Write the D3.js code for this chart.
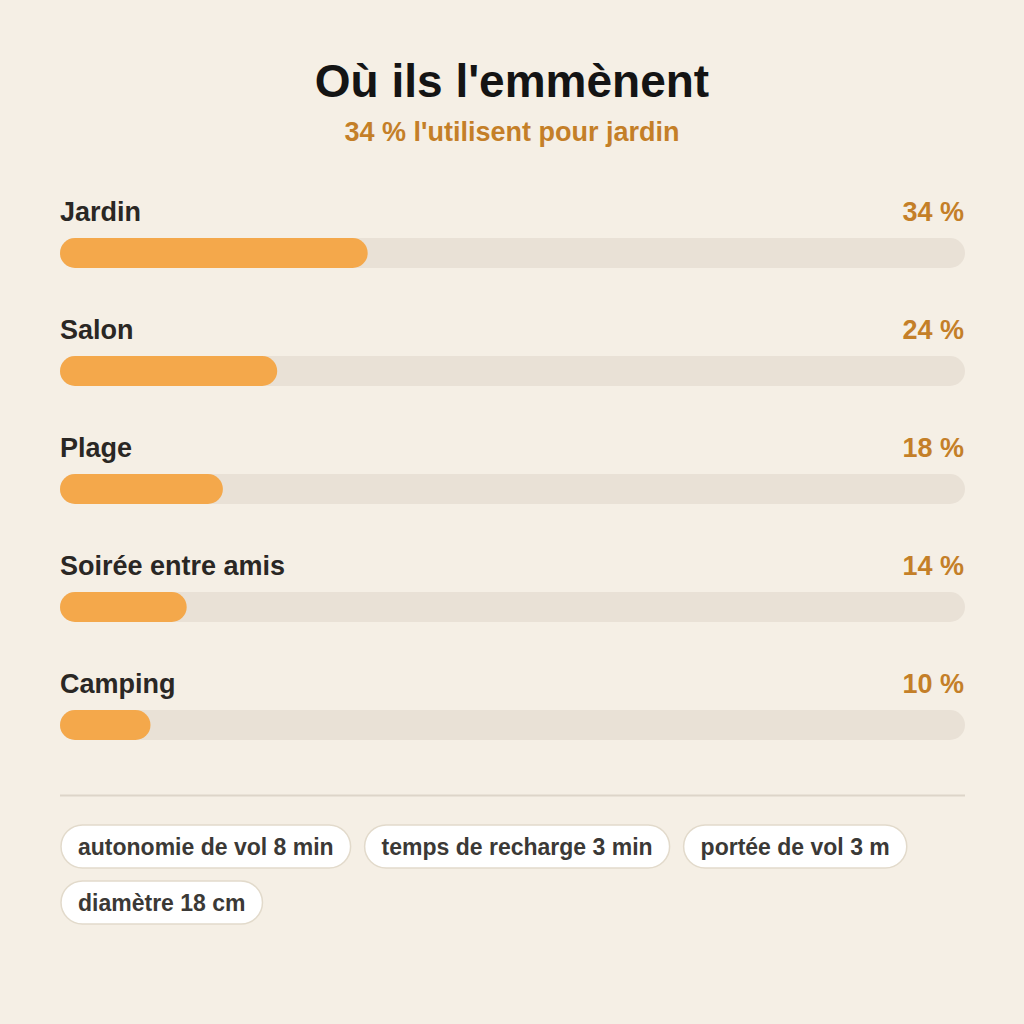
<!DOCTYPE html>
<html><head><meta charset="utf-8">
<script src="https://cdn.jsdelivr.net/npm/d3@7"></script>
<style>
html,body{margin:0;padding:0;background:#f5efe5;}
svg{display:block;font-family:"Liberation Sans",Arial,sans-serif;}
</style></head>
<body><svg id="c" width="1024" height="1024"></svg>
<script>
const title = "Où ils l'emmènent";
const subtitle = "34 % l'utilisent pour jardin";
const categories = ["Jardin","Salon","Plage","Soirée entre amis","Camping"];
const values = [34,24,18,14,10];
const chips = ["autonomie de vol 8 min","temps de recharge 3 min","portée de vol 3 m","diamètre 18 cm"];

const svg = d3.select("#c");
svg.append("rect").attr("width",1024).attr("height",1024).attr("fill","#f5efe5");
svg.append("text").attr("x",512).attr("y",97).attr("text-anchor","middle")
  .attr("font-size",46).attr("font-weight","bold").attr("fill","#141414").text(title);
svg.append("text").attr("x",512).attr("y",141).attr("text-anchor","middle")
  .attr("font-size",27).attr("font-weight","bold").attr("fill","#c47f28").text(subtitle);

const left=60, right=965, barH=30;
const x = d3.scaleLinear().domain([0,100]).range([left,right]);
const y = d3.scaleBand().domain(categories).range([238,238+118*5]).paddingInner(0).paddingOuter(0);

const rows = svg.selectAll("g.row").data(categories).join("g").attr("class","row")
  .attr("transform",d=>`translate(0,${y(d)})`);
rows.append("text").attr("x",left).attr("y",-17).attr("font-size",27).attr("font-weight","bold")
  .attr("fill","#2a2724").text(d=>d);
rows.append("text").attr("x",right-1).attr("y",-17).attr("text-anchor","end").attr("font-size",27)
  .attr("font-weight","bold").attr("fill","#c47f28").text((d,i)=>values[i]+" %");
rows.append("rect").attr("x",left).attr("y",0).attr("width",right-left).attr("height",barH)
  .attr("rx",15).attr("fill","#e9e1d6");
rows.append("rect").attr("x",left).attr("y",0).attr("width",(d,i)=>x(values[i])-left).attr("height",barH)
  .attr("rx",15).attr("fill","#f4a84b");

svg.append("line").attr("x1",left).attr("x2",right).attr("y1",795.5).attr("y2",795.5)
  .attr("stroke","#ddd5c9").attr("stroke-width",2);

// chips
let cx = left+1, cy = 825; const chipH=43, pad=17, gap=14, rowGap=56;
chips.forEach(c=>{
  const g = svg.append("g");
  const t = g.append("text").attr("font-size",23).attr("font-weight","bold").attr("fill","#3b3936").text(c);
  const w = t.node().getComputedTextLength()+pad*2;
  if (cx + w > right) { cx = left+1; cy += rowGap; }
  g.insert("rect","text").attr("x",cx).attr("y",cy).attr("width",w).attr("height",chipH)
    .attr("rx",chipH/2).attr("fill","#ffffff").attr("stroke","#e2dacb").attr("stroke-width",1.5);
  t.attr("x",cx+pad).attr("y",cy+chipH/2+8);
  cx += w + gap;
});
</script></body></html>
